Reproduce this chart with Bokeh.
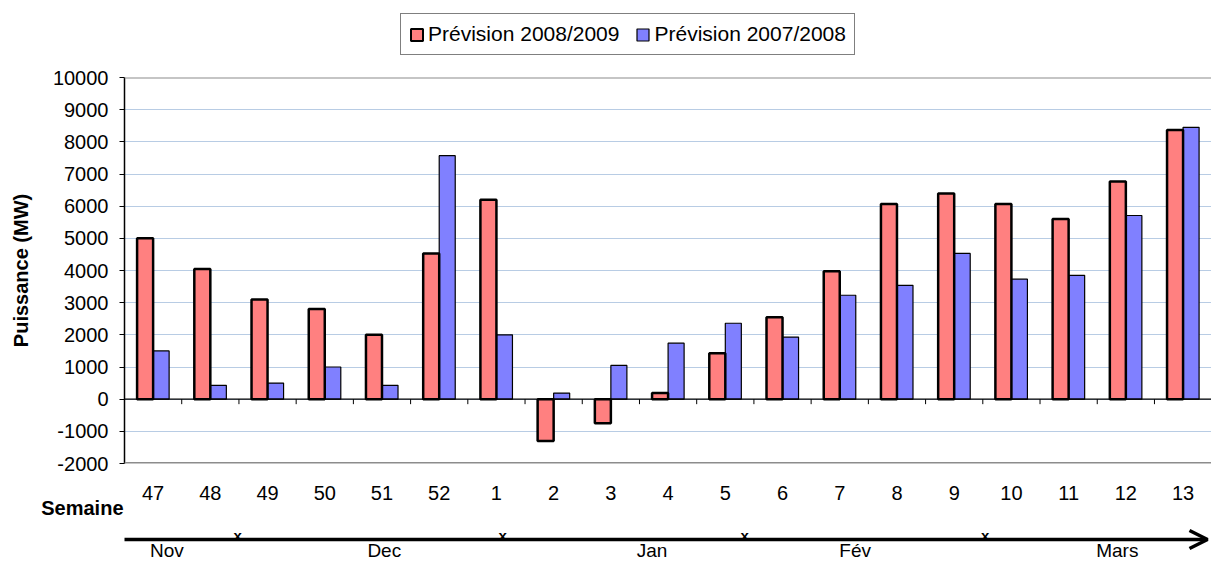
from bokeh.plotting import figure
from bokeh.models import (Range1d, FixedTicker, Span, Legend, LegendItem, ColumnDataSource,
                          NumeralTickFormatter, Arrow, OpenHead, CustomJSTickFormatter)
from bokeh.transform import dodge
from bokeh.layouts import column
from bokeh.embed import file_html
from bokeh.resources import INLINE
from bokeh.core.properties import value

# ---------------- data ----------------
weeks = ["47", "48", "49", "50", "51", "52", "1", "2", "3", "4", "5", "6", "7", "8", "9", "10", "11", "12", "13"]
prev_2008_2009 = [5000, 4050, 3100, 2800, 2000, 4530, 6200, -1300, -750, 190, 1430, 2550, 3980, 6070, 6390, 6070, 5600, 6770, 8370]
prev_2007_2008 = [1500, 430, 500, 1000, 430, 7570, 2000, 190, 1050, 1740, 2360, 1930, 3230, 3540, 4530, 3730, 3850, 5710, 8450]
series_names = ["Prévision 2008/2009", "Prévision 2007/2008"]
y_ticks = list(range(-2000, 10001, 1000))
month_names = ["Nov", "Dec", "Jan", "Fév", "Mars"]
month_centers = [0.74, 4.54, 9.22, 12.77, 17.35]      # in week-slot units
month_breaks = [1.98, 6.61, 10.84, 15.04]             # "x" marks on the timeline
axis_title_x = "Semaine"
axis_title_y = "Puissance (MW)"

# ---------------- layout constants ----------------
FONT = "Liberation Sans"
RED, BLUE = "#FF8080", "#8080FF"
W = 1211
LEFT = 124
TOP_H = 65          # legend strip height
MAIN_TOP = 12
FRAME_H = 386
MAIN_BOTTOM = 12
STRIP_H = 562 - TOP_H - MAIN_TOP - FRAME_H - MAIN_BOTTOM   # 87
STRIP_TOP = TOP_H + MAIN_TOP + FRAME_H + MAIN_BOTTOM       # page y of strip
SCALE = 57.22       # px per week slot
x_end = (W - LEFT) / SCALE
n = len(weeks)
Y0, Y1 = -2000, 10000

xr = Range1d(0, x_end)

# ---------------- legend strip ----------------
p0 = figure(width=W, height=TOP_H, x_range=Range1d(0, 1), y_range=Range1d(0, 1),
            min_border_left=LEFT, min_border_right=0, min_border_top=0, min_border_bottom=0,
            x_axis_location=None, y_axis_location=None,
            output_backend="svg", toolbar_location=None)
p0.grid.visible = False
p0.outline_line_color = None
p0.border_fill_color = "white"
# legend-only renderers: a tiny bar hidden behind the opaque legend box
la = p0.vbar(x=[0.45], bottom=[0.45], top=[0.5], width=0.02, fill_color=RED, line_color="black", line_width=2)
lb = p0.vbar(x=[0.45], bottom=[0.45], top=[0.5], width=0.02, fill_color=BLUE, line_color="black", line_width=1.2)
legend = Legend(items=[LegendItem(label=series_names[0], renderers=[la]),
                       LegendItem(label=series_names[1], renderers=[lb])],
                orientation="horizontal", location=(276, TOP_H - 55))
legend.border_line_color = "black"
legend.border_line_width = 1
legend.background_fill_color = "white"
legend.background_fill_alpha = 1
legend.label_text_font = FONT
legend.label_text_font_size = "21px"
legend.label_text_color = "black"
legend.glyph_width = 15
legend.glyph_height = 15
legend.label_standoff = 4
legend.spacing = 16
legend.padding = 8
legend.margin = 0
p0.add_layout(legend)

# ---------------- main chart ----------------
xc = [i + 0.5 for i in range(n)]
src = ColumnDataSource(dict(xc=xc, a=prev_2008_2009, b=prev_2007_2008))

p = figure(width=W, height=MAIN_TOP + FRAME_H + MAIN_BOTTOM, x_range=xr, y_range=Range1d(Y0, Y1),
           min_border_left=LEFT, min_border_right=0, min_border_top=MAIN_TOP,
           min_border_bottom=MAIN_BOTTOM, x_axis_location=None,
           output_backend="svg", toolbar_location=None)
p.outline_line_color = None
p.background_fill_color = "white"
p.border_fill_color = "white"

p.xgrid.visible = False
p.ygrid.ticker = FixedTicker(ticks=y_ticks)
p.ygrid.grid_line_color = "#B8CCE4"
p.ygrid.grid_line_width = 1

rb = p.vbar(x=dodge("xc", 0.14, range=xr), top="b", bottom=0, width=0.28, source=src,
            fill_color=BLUE, line_color="black", line_width=1.2)
ra = p.vbar(x=dodge("xc", -0.14, range=xr), top="a", bottom=0, width=0.28, source=src,
            fill_color=RED, line_color="black", line_width=2.5)

p.add_layout(Span(location=0, dimension="width", line_color="black", line_width=1.2))
tick_len = 5 * (Y1 - Y0) / FRAME_H
bx = list(range(1, n))
p.segment(x0=bx, y0=[0] * len(bx), x1=bx, y1=[-tick_len] * len(bx), line_color="black", line_width=1)

p.add_layout(Span(location=Y1, dimension="width", line_color="#8C8C8C", line_width=2))
p.add_layout(Span(location=Y0, dimension="width", line_color="#8C8C8C", line_width=3))

yax = p.yaxis[0]
yax.ticker = FixedTicker(ticks=y_ticks)
yax.formatter = NumeralTickFormatter(format="0")
yax.axis_line_color = "black"
yax.axis_line_width = 1.5
yax.major_tick_in = 0
yax.major_tick_out = 5
yax.major_tick_line_color = "black"
yax.minor_tick_line_color = None
yax.major_label_standoff = 11
yax.major_label_text_font = FONT
yax.major_label_text_font_size = "20px"
yax.major_label_text_color = "black"
yax.axis_label = axis_title_y
yax.axis_label_text_font = FONT
yax.axis_label_text_font_size = "20px"
yax.axis_label_text_font_style = "bold"
yax.axis_label_text_color = "black"
yax.axis_label_standoff = 18

# ---------------- week labels + timeline strip ----------------
p2 = figure(width=W, height=STRIP_H, x_range=xr, y_range=Range1d(STRIP_H, 0),
            min_border_left=LEFT, min_border_right=0, min_border_top=0, min_border_bottom=0,
            x_axis_location=None, y_axis_location="left",
            output_backend="svg", toolbar_location=None)
p2.grid.visible = False
p2.outline_line_color = None
p2.background_fill_color = "white"
p2.border_fill_color = "white"


def sy(page_y):
    return page_y - STRIP_TOP


# week labels under each slot
p2.text(x=xc, y=[sy(492)] * n, text=weeks, text_font=value(FONT), text_font_size="20px",
        text_align="center", text_baseline="middle", text_color="black")

# "Semaine" as the single tick label of the strip's axis
ax2 = p2.yaxis[0]
ax2.ticker = FixedTicker(ticks=[sy(507)])
ax2.formatter = CustomJSTickFormatter(args=dict(t=axis_title_x), code="return t;")
ax2.axis_line_color = None
ax2.major_tick_line_color = None
ax2.minor_tick_line_color = None
ax2.major_tick_out = 0
ax2.major_tick_in = 0
ax2.major_label_standoff = 1
ax2.major_label_text_font = FONT
ax2.major_label_text_font_size = "20px"
ax2.major_label_text_font_style = "bold"
ax2.major_label_text_color = "black"

line_y = sy(539)
p2.add_layout(Arrow(end=OpenHead(size=18, line_width=3.5, line_color="black"),
                    x_start=-8 / SCALE, y_start=line_y, x_end=(1207 - LEFT) / SCALE, y_end=line_y,
                    line_width=3.5, line_color="black"))
p2.text(x=month_breaks, y=[line_y - 4] * len(month_breaks), text=["x"] * len(month_breaks),
        text_font=value(FONT), text_font_size="15px", text_font_style="bold",
        text_align="center", text_baseline="middle", text_color="black")
p2.text(x=month_centers, y=[sy(550)] * len(month_centers), text=month_names,
        text_font=value(FONT), text_font_size="19px", text_align="center",
        text_baseline="middle", text_color="black")

layout = column(p0, p, p2, spacing=0)
open("out.html", "w").write(file_html(layout, INLINE))
